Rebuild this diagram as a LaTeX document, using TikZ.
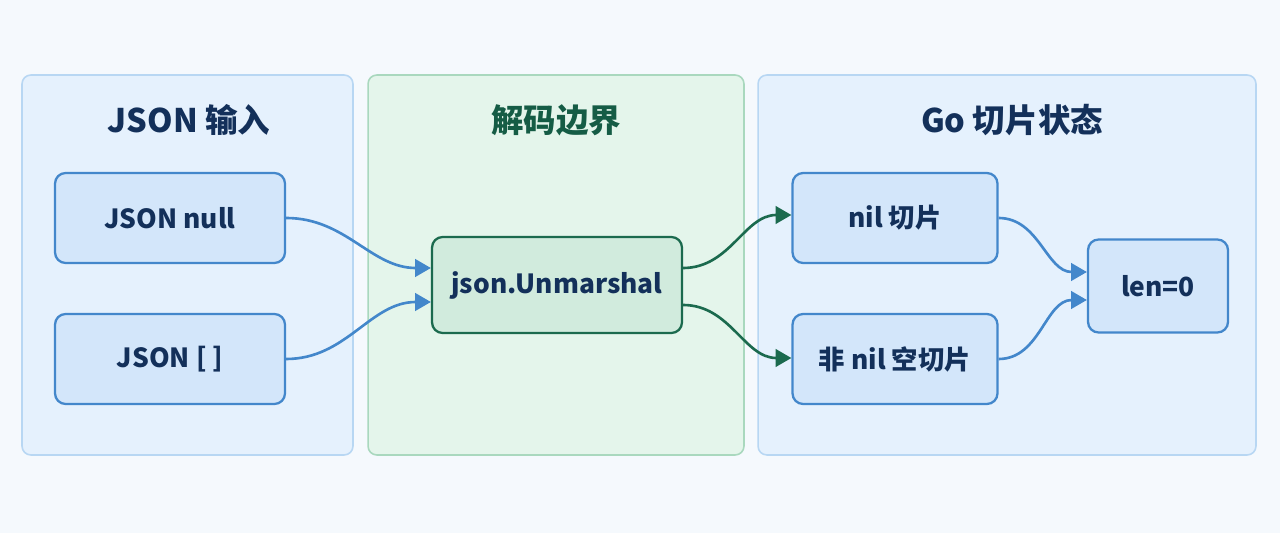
\documentclass[tikz,border=0pt]{standalone}
\usepackage{fontspec}
\setmainfont{Noto Sans CJK SC}
\usepackage{xcolor}
\usepackage{tikz}
\usetikzlibrary{arrows.meta,positioning}
\definecolor{pagebg}{HTML}{F5F9FD}
\definecolor{panelblue}{HTML}{E5F1FD}
\definecolor{edgeblue}{HTML}{B8D7F3}
\definecolor{panelgreen}{HTML}{E4F5EB}
\definecolor{edgegreen}{HTML}{A9D8BE}
\definecolor{boxblue}{HTML}{D3E6FA}
\definecolor{lineblue}{HTML}{4387CB}
\definecolor{boxgreen}{HTML}{D1EBDD}
\definecolor{linegreen}{HTML}{1B6A4E}
\definecolor{navyink}{HTML}{13305A}
\definecolor{greenink}{HTML}{155C45}

\begin{document}
\begin{tikzpicture}[
    x=0.02cm, y=-0.02cm,
    panel/.style={rectangle, rounded corners=5pt, line width=0.9pt, minimum height=7.6cm},
    bluepanel/.style={panel, draw=edgeblue, fill=panelblue},
    greenpanel/.style={panel, draw=edgegreen, fill=panelgreen},
    title/.style={font=\bfseries\fontsize{18.5}{22}\selectfont},
    box/.style={rectangle, rounded corners=6pt, line width=1.3pt, draw=lineblue, fill=boxblue,
        minimum width=4.6cm, minimum height=1.8cm, text=navyink, font=\bfseries\fontsize{15}{18}\selectfont},
    gbox/.style={box, draw=linegreen, fill=boxgreen, minimum width=5cm, minimum height=1.92cm},
    link/.style={-{Triangle[length=9pt,width=10pt]}, line width=1.5pt, lineblue},
    glink/.style={link, linegreen}
]
\useasboundingbox[fill=pagebg] (0,0) rectangle (1280,533);

% Panels
\node[bluepanel, minimum width=6.62cm] (inpanel) at (187.5,265) {};
\node[greenpanel, minimum width=7.52cm] (decpanel) at (556,265) {};
\node[bluepanel, minimum width=9.96cm] (gopanel) at (1007,265) {};

% Panel titles
\node[title, text=navyink] (intitle) at (189,120) {JSON 输入};
\node[title, text=greenink] (dectitle) at (556,120) {解码边界};
\node[title, text=navyink] (gotitle) at (1012,120) {Go 切片状态};

% Input nodes
\node[box] (jnull) at (170,218) {JSON null};
\node[box] (jempty) at (170,359) {JSON [ ]};

% Decoder
\node[gbox] (unmarshal) at (557,285) {json.Unmarshal};

% Slice states
\node[box, minimum width=4.1cm] (nilslice) at (895,218) {nil 切片};
\node[box, minimum width=4.1cm] (emptyslice) at (895,359) {非 nil 空切片};
\node[box, minimum width=2.8cm, minimum height=1.86cm] (lenzero) at (1158,286) {len=0};

\draw[link] (jnull.east) to[out=0, in=180] ([yshift=0.34cm]unmarshal.west);
\draw[link] (jempty.east) to[out=0, in=180] ([yshift=-0.34cm]unmarshal.west);
\draw[glink] ([yshift=0.34cm]unmarshal.east) to[out=0, in=180] ([yshift=0.06cm]nilslice.west);
\draw[glink] ([yshift=-0.4cm]unmarshal.east) to[out=0, in=180] ([yshift=0.02cm]emptyslice.west);
\draw[link] (nilslice.east) to[out=0, in=180] ([yshift=0.28cm]lenzero.west);
\draw[link] (emptyslice.east) to[out=0, in=180] ([yshift=-0.28cm]lenzero.west);

\end{tikzpicture}
\end{document}
